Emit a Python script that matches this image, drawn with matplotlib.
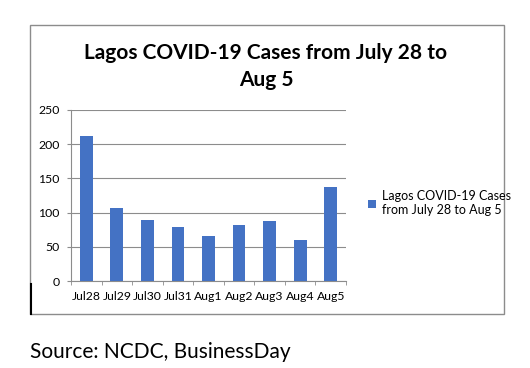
import matplotlib.pyplot as plt
from matplotlib.patches import Rectangle

days = ["Jul28", "Jul29", "Jul30", "Jul31", "Aug1", "Aug2", "Aug3", "Aug4", "Aug5"]
cases = [212, 107, 89, 79, 66, 82, 88, 60, 137]
yticks = [0, 50, 100, 150, 200, 250]
series_name = "Lagos COVID-19 Cases\nfrom July 28 to Aug 5"

plt.rcParams['font.family'] = ['Lato', 'DejaVu Sans']
fig = plt.figure(figsize=(5.3, 3.68), dpi=100)

# outer chart border
fig.patches.append(Rectangle((30/530, 1-314/368), 474/530, 289/368,
                             transform=fig.transFigure, fill=False,
                             edgecolor="#8c8c8c", linewidth=1))

ax = fig.add_axes([71/530, 1-281/368, 275/530, 171/368])
ax.bar(range(len(days)), cases, width=0.42, color="#4472c4", label=series_name, zorder=3)
ax.set_xlim(-0.5, len(days)-0.5)
ax.set_ylim(0, 250)
ax.set_yticks(yticks)
ax.set_xticks(range(len(days)))
ax.set_xticklabels(days)
ax.set_xticks([i+0.5 for i in range(-1, len(days))], minor=True)
ax.grid(axis="y", color="#8c8c8c", linewidth=0.8, zorder=0)
for s in ["top", "right"]:
    ax.spines[s].set_visible(False)
ax.spines["left"].set_color("#8c8c8c")
ax.spines["bottom"].set_color("#8c8c8c")
ax.tick_params(axis="y", length=3, color="#8c8c8c", labelsize=8.8, pad=5)
ax.tick_params(axis="x", which="major", length=0, labelsize=8.8, pad=7)
ax.tick_params(axis="x", which="minor", length=3, color="#8c8c8c")

fig.text(266/530, 1-53/368, "Lagos COVID-19 Cases from July 28 to", ha="center", va="center",
         fontsize=15, fontweight="bold")
fig.text(266/530, 1-80/368, "Aug 5", ha="center", va="center", fontsize=15, fontweight="bold")

fig.legend(loc="center left", bbox_to_anchor=(357/530, 1-203/368), frameon=False,
           fontsize=9, handlelength=0.6, handleheight=0.6, handletextpad=0.5)

fig.text(30/530, 1-352/368, "Source: NCDC, BusinessDay", ha="left", va="center", fontsize=15)

# stray cursor mark at the left edge
fig.add_artist(plt.Line2D([30.5/530, 30.5/530], [1-314/368, 1-284/368],
                          transform=fig.transFigure, color="black", linewidth=1.5))

plt.savefig("out.png", dpi=100)
